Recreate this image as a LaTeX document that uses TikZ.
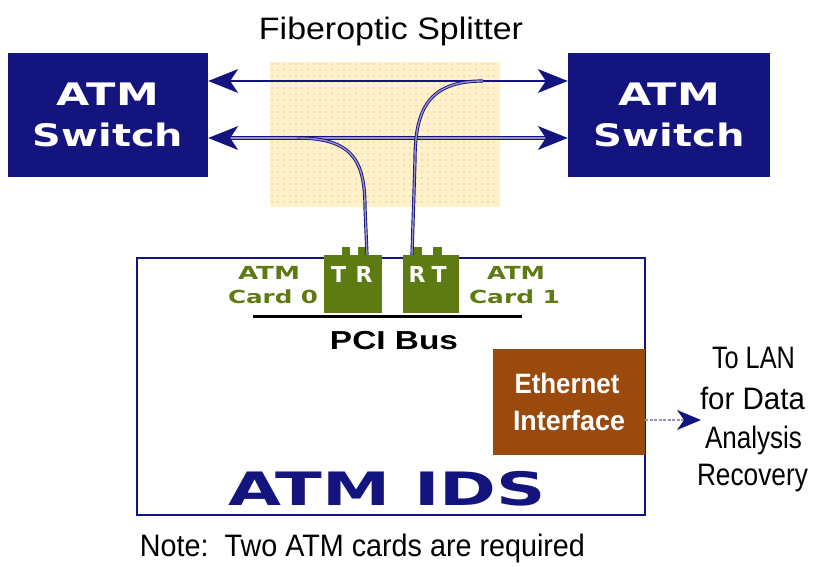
\documentclass[tikz,border=0pt]{standalone}
\usepackage{fontspec}
\usepackage{graphicx}
\setmainfont{Liberation Sans}
\newfontfamily\widefont{DejaVu Sans}
\usetikzlibrary{arrows.meta}
\definecolor{navy}{HTML}{14147E}
\definecolor{fiberlt}{HTML}{9A90C8}
\definecolor{cardgreen}{HTML}{5E7A12}
\definecolor{ethbrown}{HTML}{9A4A0C}
\definecolor{splitfill}{HTML}{FFF2C8}
\definecolor{splitdot}{HTML}{F6C0C0}
\newcommand{\fw}[2]{\resizebox{#1pt}{\height}{#2}}
\newcommand{\headL}[1]{\fill[navy] (#1) -- ++(30,-12) -- ++(-8,12) -- ++(8,12) -- cycle;}
\newcommand{\headR}[1]{\fill[navy] (#1) -- ++(-30,-12) -- ++(8,12) -- ++(-8,12) -- cycle;}
\tikzset{
  switchbox/.style={fill=navy, draw=none, minimum width=200pt, minimum height=124pt, inner sep=0pt},
  cardbox/.style={fill=cardgreen, draw=none, minimum width=58pt, minimum height=58pt, inner sep=0pt},
  bump/.style={fill=cardgreen, draw=none},
  fiber/.style={draw=navy, line width=2.4pt},
  fiberout/.style={draw=navy, line width=3.6pt},
  fiberin/.style={draw=fiberlt, line width=1.6pt},
  swtext/.style={text=white, font=\widefont\bfseries\fontsize{31}{31}\selectfont, inner sep=0pt, anchor=center},
  cardtext/.style={text=cardgreen, font=\widefont\bfseries\fontsize{18}{18}\selectfont, inner sep=0pt},
  trtext/.style={text=white, font=\widefont\bfseries\fontsize{22}{22}\selectfont, inner sep=0pt},
  plain/.style={text=black, font=\fontsize{31}{31}\selectfont, inner sep=0pt},
}
\begin{document}
\begin{tikzpicture}[x=1pt,y=-1pt]
\useasboundingbox (0,0) rectangle (814,567);
% splitter background
\fill[splitfill] (270,62) rectangle (500,207);
\foreach \i in {0,...,37} {\foreach \j in {0,...,23} {
  \fill[splitdot] (272+6*\i,64+6*\j) circle (0.9pt);}}
\node[plain] (splitlbl) at (391,31) {\fw{264}{Fiberoptic Splitter}};
% switches
\node[switchbox] (swL) at (108,115) {};
\node[switchbox, minimum width=202pt] (swR) at (669,115) {};
\node[swtext] (swLa) at (108,94) {\fw{102}{ATM}};
\node[swtext] (swLb) at (108,135) {\fw{150}{Switch}};
\node[swtext] (swRa) at (669,94) {\fw{102}{ATM}};
\node[swtext] (swRb) at (669,135) {\fw{151}{Switch}};
% fiber lines
\coordinate (tL) at ([yshift=34pt]swL.east);
\coordinate (tR) at ([yshift=34pt]swR.west);
\coordinate (bL) at ([yshift=-23pt]swL.east);
\coordinate (bR) at ([yshift=-23pt]swR.west);
\draw[fiber] ([xshift=10pt]tL) -- ([xshift=-10pt]tR);
\draw[fiberout] ([xshift=10pt]bL) -- ([xshift=-10pt]bR);
\draw[fiberin] ([xshift=10pt]bL) -- ([xshift=-10pt]bR);
\headL{tL}
\headR{tR}
\headL{bL}
\headR{bR}
% IDS box
\node[draw=navy, line width=1.2pt, minimum width=508pt, minimum height=257pt, inner sep=0pt] (ids) at (391,386.5) {};
% cards
\node[cardbox] (cardA) at (353,284) {};
\node[cardbox, minimum width=56pt] (cardB) at (431,284) {};
\fill[bump] (342,247) rectangle (350,256);
\fill[bump] (358,247) rectangle (367,256);
\fill[bump] (413,247) rectangle (422,256);
\fill[bump] (433,247) rectangle (442,256);
\node[trtext] (tA) at (338.5,274) {T};
\node[trtext] (rA) at (364,274) {R};
\node[trtext] (rB) at (417,274) {R};
\node[trtext] (tB) at (439,274) {T};
% fiber curves
\coordinate (cA) at ([xshift=14pt]cardA.north);
\coordinate (cB) at ([xshift=-19pt]cardB.north);
\coordinate (sA) at (297,138);
\coordinate (sB) at (483,81);
\draw[fiberout, line width=3.2pt] (sA) .. controls (352,138) and (365,160) .. (365,208) -- (cA);
\draw[fiberin, line width=1.4pt] (sA) .. controls (352,138) and (365,160) .. (365,208) -- (cA);
\draw[fiberout, line width=3.2pt] (sB) .. controls (428,81) and (415,110) .. (415,160) -- (cB);
\draw[fiberin, line width=1.4pt] (sB) .. controls (428,81) and (415,110) .. (415,160) -- (cB);
% card labels
\node[cardtext] (c0a) at (269,273) {\fw{62}{ATM}};
\node[cardtext] (c0b) at (273,297) {\fw{90}{Card 0}};
\node[cardtext] (c1a) at (516,273) {\fw{58}{ATM}};
\node[cardtext] (c1b) at (514.5,297) {\fw{91}{Card 1}};
% PCI bus
\coordinate (pci1) at (253,316);
\coordinate (pci2) at (522,316);
\draw[line width=3pt] (pci1) -- (pci2);
\node[text=black, font=\bfseries\fontsize{26}{26}\selectfont, inner sep=0pt] (pcilbl) at (394,341) {\fw{128}{PCI Bus}};
% ethernet
\node[fill=ethbrown, minimum width=152pt, minimum height=106pt, inner sep=0pt] (eth) at (569,402) {};
\node[text=white, font=\bfseries\fontsize{28}{28}\selectfont, inner sep=0pt] (etha) at (567,383) {\fw{105}{Ethernet}};
\node[text=white, font=\bfseries\fontsize{28}{28}\selectfont, inner sep=0pt] (ethb) at (569,420) {\fw{112}{Interface}};
\coordinate (lanpt) at (701,420);
\draw[draw=fiberlt, line width=2pt, dash pattern=on 3pt off 1.5pt] ([yshift=-18pt]eth.east) -- ([xshift=-14pt]lanpt);
\fill[navy] (lanpt) -- ++(-24,-10) -- ++(7,10) -- ++(-7,10) -- cycle;
\node[plain] (lan1) at (753.5,358) {\fw{83}{To LAN}};
\node[plain] (lan2) at (752.5,398) {\fw{105}{for Data}};
\node[plain] (lan3) at (753.5,440) {\fw{97}{Analysis}};
\node[plain] (lan4) at (752.5,478) {\fw{111}{Recovery}};
% ATM IDS
\node[text=navy, font=\widefont\bfseries\fontsize{46}{46}\selectfont, inner sep=0pt] (idslbl) at (387,489) {\fw{318}{ATM IDS}};
% note
\node[plain] (note) at (362.5,548) {\fw{445}{Note:\ \ Two ATM cards are required}};
\end{tikzpicture}
\end{document}
